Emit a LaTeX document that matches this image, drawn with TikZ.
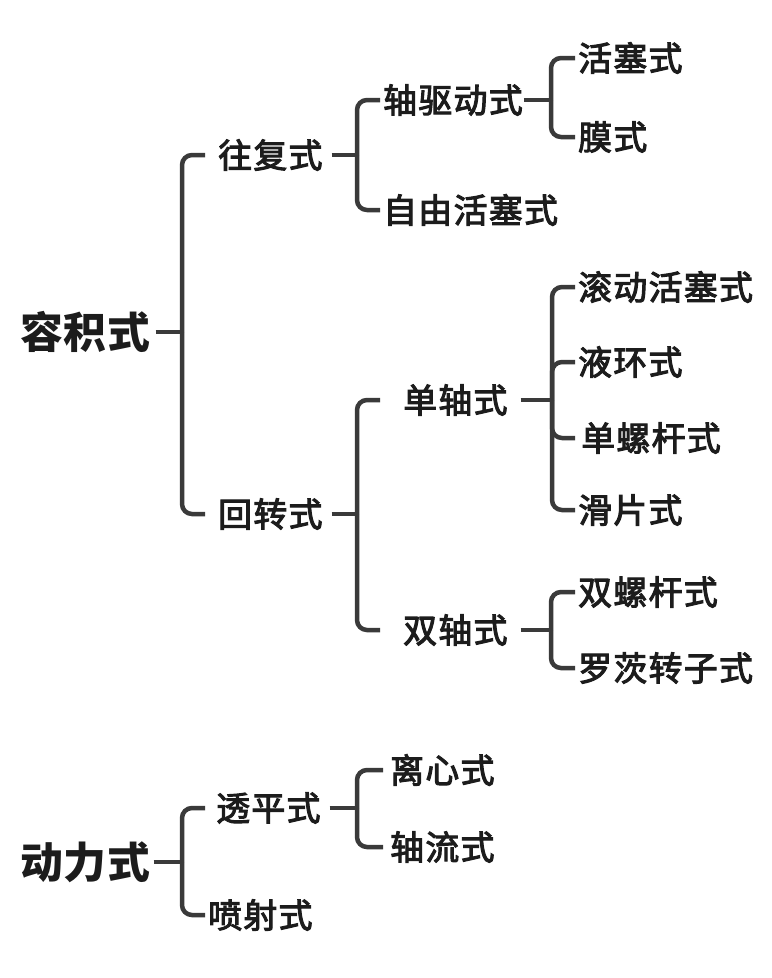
\documentclass[tikz,border=0pt]{standalone}
\usepackage{fontspec}
\newfontfamily\cjk{Noto Sans CJK SC}[LetterSpace=2]
\newfontfamily\cjkitem{Noto Sans CJK SC}[FakeBold=3, LetterSpace=4]
\definecolor{linegray}{HTML}{3A3A3A}
\definecolor{inkblack}{HTML}{1C1C1C}

\begin{document}
\begin{tikzpicture}[
  x=1bp, y=-1bp,
  every node/.style={inner sep=0pt, anchor=west, text=inkblack},
  big/.style={font=\cjk\bfseries\fontsize{43}{48}\selectfont},
  item/.style={font=\cjkitem\fontsize{34}{38}\selectfont},
  link/.style={draw=linegray, line width=4.5bp, rounded corners=10bp}
]
\useasboundingbox (0,0) rectangle (772,978);

% positive displacement
\node[big]  (rj)  at (20,332)  {容积式};
\node[item] (wf)  at (218,155) {往复式};
\node[item] (hz)  at (218,514) {回转式};
\node[item] (zq)  at (383,100) {轴驱动式};
\node[item] (zy)  at (383,210) {自由活塞式};
\node[item] (hs)  at (578,58)  {活塞式};
\node[item] (ms)  at (578,137) {膜式};
\node[item] (dz)  at (403,400) {单轴式};
\node[item] (sz)  at (403,630) {双轴式};
\node[item] (gd)  at (578,287) {滚动活塞式};
\node[item] (yh)  at (578,362) {液环式};
\node[item] (dl)  at (581,438) {单螺杆式};
\node[item] (hp)  at (578,510) {滑片式};
\node[item] (sl)  at (578,592) {双螺杆式};
\node[item] (lc)  at (578,668) {罗茨转子式};

% dynamic
\node[big]  (dlq) at (20,862)  {动力式};
\node[item] (tp)  at (216,808) {透平式};
\node[item] (ps)  at (208,915) {喷射式};
\node[item] (lx)  at (390,770) {离心式};
\node[item] (zl)  at (390,847) {轴流式};

% spines
\coordinate (s1) at (182,332);
\coordinate (s2) at (357,155);
\coordinate (s3) at (551,100);
\coordinate (s4) at (357,514);
\coordinate (s5) at (552,400);
\coordinate (s6) at (551,630);
\coordinate (s7) at (182,862);
\coordinate (s8) at (357,808);

% brackets
\draw[link] ([xshift=5]rj.east) -- (s1);
\foreach \c/\g in {wf/13, hz/13} \draw[link] (s1) |- ([xshift=-\g]\c.west);
\draw[link] ([xshift=9]wf.east) -- (s2);
\foreach \c/\g in {zq/3, zy/3} \draw[link] (s2) |- ([xshift=-\g]\c.west);
\draw[link] ([xshift=1]zq.east) -- (s3);
\foreach \c/\g in {hs/3, ms/3} \draw[link] (s3) |- ([xshift=-\g]\c.west);
\draw[link] ([xshift=9]hz.east) -- (s4);
\foreach \c/\g in {dz/23, sz/23} \draw[link] (s4) |- ([xshift=-\g]\c.west);
\draw[link] ([xshift=13]dz.east) -- (s5);
\foreach \c/\g in {gd/3, yh/3, dl/6, hp/3} \draw[link] (s5) |- ([xshift=-\g]\c.west);
\draw[link] ([xshift=13]sz.east) -- (s6);
\foreach \c/\g in {sl/3, lc/3} \draw[link] (s6) |- ([xshift=-\g]\c.west);
\draw[link] ([xshift=3]dlq.east) -- (s7);
\foreach \c/\g in {tp/11, ps/3} \draw[link] (s7) |- ([xshift=-\g]\c.west);
\draw[link] ([xshift=9]tp.east) -- (s8);
\foreach \c/\g in {lx/7, zl/7} \draw[link] (s8) |- ([xshift=-\g]\c.west);

\end{tikzpicture}
\end{document}
